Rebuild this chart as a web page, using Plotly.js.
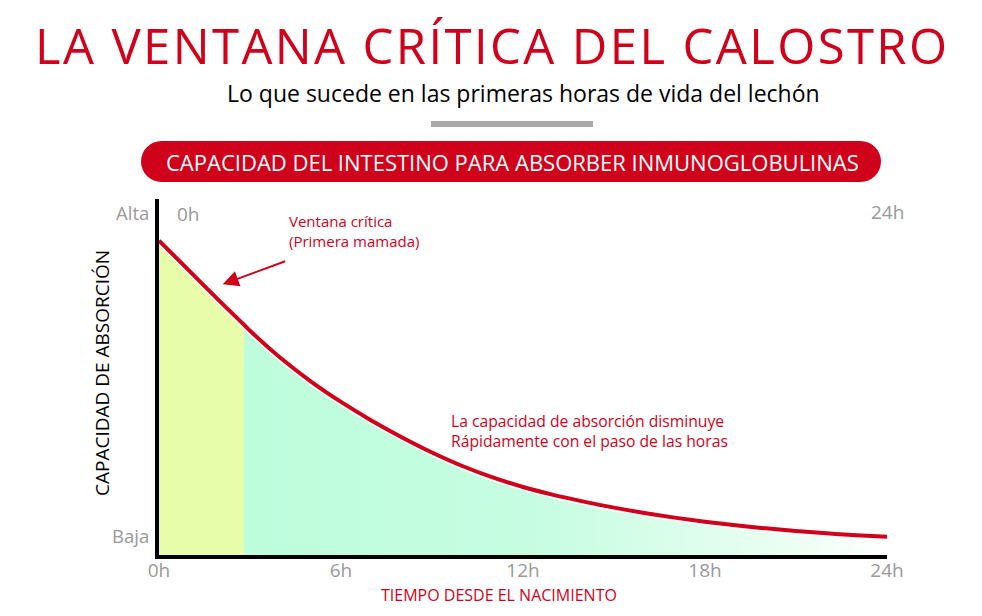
<!DOCTYPE html>
<html>
<head>
<meta charset="utf-8">
<script src="https://cdn.plot.ly/plotly-3.0.1.min.js"></script>
<style>
  html, body { margin: 0; padding: 0; background: #fff; }
  #chart { width: 982px; height: 616px; }
  .annotation[data-index="0"] text { letter-spacing: 2.4px; }
</style>
</head>
<body>
<div id="chart"></div>
<script>
// ---- data ----
const hours = [0, 1, 2, 2.8, 3, 4, 5, 6, 7, 8, 9, 10, 11, 12, 13, 14, 15, 16, 17, 18, 19, 20, 21, 22, 23, 24];
const capacity = [88.3, 79.8, 71.3, 64.7, 63.0, 55.4, 48.8, 43.0, 37.8, 33.1, 28.8, 25.0, 21.8, 19.1, 16.9, 15.0, 13.3, 11.8, 10.5, 9.35, 8.35, 7.5, 6.75, 6.1, 5.55, 5.1];
const criticalWindowEnd = 2.8;
const xTickValues = [0, 6, 12, 18, 24];
const xTickLabels = ['0h', '6h', '12h', '18h', '24h'];
const yTickValues = [95.8, 5.3];
const yTickLabels = ['Alta', 'Baja'];

const RED = '#d0021b';
const GREY = '#999999';

// split series for the two coloured areas
const winX = [], winY = [], restX = [], restY = [];
hours.forEach((h, i) => {
  if (h <= criticalWindowEnd) { winX.push(h); winY.push(capacity[i]); }
  if (h >= criticalWindowEnd) { restX.push(h); restY.push(capacity[i]); }
});

// layout geometry (pixels)
const W = 982, H = 616;
const M = { l: 159, r: 95, t: 199, b: 61 };
const PW = W - M.l - M.r, PH = H - M.t - M.b;
const px = x => (x - M.l) / PW;
const py = y => (H - M.b - y) / PH;

// rounded pill path in paper coords
function pill(x0, y0, x1, y1) {
  const r = (y1 - y0) / 2;
  const cy = (y0 + y1) / 2;
  let d = '';
  const pts = [];
  for (let k = 0; k <= 16; k++) {
    const a = -Math.PI / 2 + Math.PI * k / 16;
    pts.push([x1 - r + r * Math.cos(a), cy + r * Math.sin(a)]);
  }
  for (let k = 0; k <= 16; k++) {
    const a = Math.PI / 2 + Math.PI * k / 16;
    pts.push([x0 + r + r * Math.cos(a), cy + r * Math.sin(a)]);
  }
  pts.forEach((p, i) => { d += (i ? ' L ' : 'M ') + px(p[0]).toFixed(5) + ' ' + py(p[1]).toFixed(5); });
  return d + ' Z';
}

const traces = [
  {
    x: winX, y: winY, type: 'scatter', mode: 'lines',
    line: { shape: 'spline', smoothing: 1, color: '#ffffff', width: 7 },
    fill: 'tozeroy', fillcolor: '#e8fdaa', hoverinfo: 'skip', showlegend: false
  },
  {
    x: restX, y: restY, type: 'scatter', mode: 'lines',
    line: { shape: 'spline', smoothing: 1, color: '#ffffff', width: 7 },
    fill: 'tozeroy',
    fillgradient: { type: 'horizontal', colorscale: [[0, '#bdfddc'], [0.45, '#c6fde2'], [0.8, '#e6fef0'], [1, '#ffffff']] },
    hoverinfo: 'skip', showlegend: false
  },
  {
    x: hours, y: capacity, type: 'scatter', mode: 'lines',
    line: { shape: 'spline', smoothing: 1, color: RED, width: 4 },
    showlegend: false
  }
];

const layout = {
  width: W, height: H,
  margin: M,
  paper_bgcolor: '#ffffff', plot_bgcolor: 'rgba(0,0,0,0)',
  showlegend: false,
  font: { family: 'Open Sans, sans-serif', color: '#000' },
  xaxis: {
    range: [0, 24], showgrid: false, zeroline: false,
    showline: true, linecolor: '#000', linewidth: 4,
    tickvals: xTickValues, ticktext: xTickLabels, ticks: '',
    ticklabelstandoff: -5,
    tickfont: { family: 'Open Sans, sans-serif', size: 19, color: GREY },
    fixedrange: true
  },
  yaxis: {
    range: [0, 100], showgrid: false, zeroline: false,
    showline: true, linecolor: '#000', linewidth: 4,
    tickvals: yTickValues, ticktext: yTickLabels, ticks: '',
    ticklabelstandoff: 2,
    tickfont: { family: 'Open Sans, sans-serif', size: 18.5, color: GREY },
    fixedrange: true
  },
  shapes: [
    { type: 'rect', xref: 'paper', yref: 'paper', x0: px(431), x1: px(593), y0: py(127), y1: py(121),
      fillcolor: '#a8a8a8', line: { width: 0 } },
    { type: 'path', xref: 'paper', yref: 'paper', path: pill(141, 141, 881, 182),
      fillcolor: RED, line: { width: 0 } }
  ],
  annotations: [
    { text: 'LA VENTANA CRÍTICA DEL CALOSTRO', xref: 'paper', yref: 'paper', x: px(33), y: py(45),
      xanchor: 'left', yanchor: 'middle', align: 'left', showarrow: false,
      font: { family: 'Open Sans, sans-serif', size: 49, weight: 400, color: RED } },
    { text: 'Lo que sucede en las primeras horas de vida del lechón', xref: 'paper', yref: 'paper', x: px(523), y: py(93),
      xanchor: 'center', yanchor: 'middle', showarrow: false,
      font: { family: 'Open Sans, sans-serif', size: 23, color: '#000' } },
    { text: 'CAPACIDAD DEL INTESTINO PARA ABSORBER INMUNOGLOBULINAS', xref: 'paper', yref: 'paper', x: px(512), y: py(162),
      xanchor: 'center', yanchor: 'middle', showarrow: false,
      font: { family: 'Open Sans, sans-serif', size: 22, color: '#fff' } },
    { text: 'CAPACIDAD DE ABSORCIÓN', xref: 'paper', yref: 'paper', x: px(102), y: py(373),
      xanchor: 'center', yanchor: 'middle', textangle: -90, showarrow: false,
      font: { family: 'Open Sans, sans-serif', size: 19, color: '#000' } },
    { text: 'TIEMPO DESDE EL NACIMIENTO', xref: 'paper', yref: 'paper', x: px(499), y: py(595),
      xanchor: 'center', yanchor: 'middle', showarrow: false,
      font: { family: 'Open Sans, sans-serif', size: 16, color: RED } },
    { text: '0h', xref: 'paper', yref: 'paper', x: px(188), y: py(214),
      xanchor: 'center', yanchor: 'middle', showarrow: false,
      font: { family: 'Open Sans, sans-serif', size: 19, color: GREY } },
    { text: '24h', xref: 'paper', yref: 'paper', x: px(887), y: py(212),
      xanchor: 'center', yanchor: 'middle', showarrow: false,
      font: { family: 'Open Sans, sans-serif', size: 19, color: GREY } },
    { text: 'Ventana crítica<br>(Primera mamada)', xref: 'paper', yref: 'paper', x: px(287), y: py(231),
      xanchor: 'left', yanchor: 'middle', align: 'left', showarrow: false,
      font: { family: 'Open Sans, sans-serif', size: 15, color: RED } },
    { text: '', xref: 'paper', yref: 'paper', x: px(222.7), y: py(284.3),
      ax: 64, ay: -23.6, axref: 'pixel', ayref: 'pixel',
      showarrow: true, arrowhead: 2, arrowsize: 1.6, arrowwidth: 2, arrowcolor: RED },
    { text: 'La capacidad de absorción disminuye<br>Rápidamente con el paso de las horas', xref: 'paper', yref: 'paper', x: px(449), y: py(431),
      xanchor: 'left', yanchor: 'middle', align: 'left', showarrow: false,
      font: { family: 'Open Sans, sans-serif', size: 15.7, color: RED } }
  ]
};

Plotly.newPlot('chart', traces, layout, { displayModeBar: false, staticPlot: true });
</script>
</body>
</html>
